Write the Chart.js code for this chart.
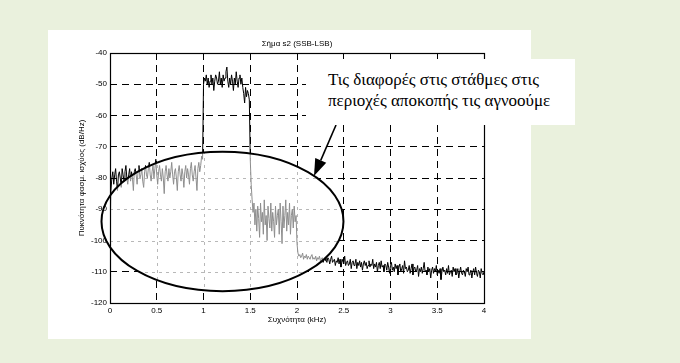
<!DOCTYPE html>
<html>
<head>
<meta charset="utf-8">
<script src="https://cdn.jsdelivr.net/npm/chart.js@4.4.1/dist/chart.umd.min.js"></script>
<style>
  html, body { margin: 0; padding: 0; background: #EAF1DD; }
  #wrap { position: relative; width: 680px; height: 363px; overflow: hidden; }
  #paper { position: absolute; left: 48px; top: 30px; width: 483px; height: 309px; background: #fff; }
  #c { position: absolute; left: 0; top: 0; }
  #note {
    position: absolute; left: 306px; top: 59px; width: 269px; height: 66px;
    background: #fff; box-sizing: border-box; padding: 10px 0 0 22px;
    font-family: "Liberation Serif", "Times New Roman", serif; font-size: 17px;
    line-height: 21px; color: #000; white-space: nowrap;
  }
</style>
</head>
<body>
<div id="wrap">
  <div id="paper"></div>
  <canvas id="c" width="680" height="363"></canvas>
  <div id="note">Τις διαφορές στις στάθμες στις<br>περιοχές αποκοπής τις αγνοούμε</div>
</div>
<script>
// ---- data ----
const chartTitle = 'Σήμα s2 (SSB-LSB)';
const xAxisTitle = 'Συχνότητα (kHz)';
const yAxisTitle = 'Πυκνότητα φασμ. ισχύος (dB/Hz)';
const freqStartKHz = 0;
const freqStepKHz = 0.01;
const xTickValues = [0, 0.5, 1, 1.5, 2, 2.5, 3, 3.5, 4];
const yTickValues = [-120, -110, -100, -90, -80, -70, -60, -50, -40];
// power spectral density, dB/Hz, one value every 0.01 kHz from 0 to 4 kHz
const psdDb = [
  -98, -84, -80, -78, -82, -79, -77, -81, -84, -79, -78, -80, -83, -77, -79, -81, -78, -76, -80, -82,
  -79, -77, -81, -78, -80, -84, -78, -77, -79, -82, -78, -76, -80, -79, -77, -81, -83, -78, -76, -79,
  -80, -77, -75, -79, -81, -78, -76, -80, -77, -74, -79, -82, -78, -76, -79, -81, -77, -80, -85, -78,
  -76, -79, -81, -77, -80, -78, -75, -79, -82, -78, -77, -80, -84, -78, -76, -79, -81, -77, -79, -83,
  -78, -76, -80, -77, -79, -82, -77, -75, -79, -81, -78, -76, -80, -84, -77, -75, -78, -76, -73, -74,
  -50, -48, -49, -47, -50, -48, -51, -49, -47, -50, -48, -52, -49, -47, -48, -50, -49, -46, -50, -48,
  -51, -47, -49, -48, -46, -44.5, -49, -51, -48, -50, -47, -49, -52, -48, -50, -46, -49, -51, -48, -47,
  -50, -48, -51, -53, -56, -51, -54, -52, -53, -55,
  -74, -82, -87, -91, -88, -95, -90, -97, -89, -93,
  -99, -88, -94, -91, -98, -87, -95, -92, -100, -89, -93, -96, -88, -97, -91, -94, -99, -89, -95, -92,
  -90, -98, -88, -94, -101, -89, -96, -92, -87, -97, -91, -95, -88, -98, -92, -90, -96, -89, -94, -92,
  -101, -104, -105, -104.5, -105.5, -105, -104, -106, -105, -105.5, -104.5, -106, -105, -105.5, -106, -105, -104.5, -106, -105.5, -106,
  -105, -106.5, -105.5, -106, -105, -106.5, -106, -105.5, -107, -106, -105.5, -106.5, -107, -105.5, -106, -107.5, -106, -105, -107, -106.5,
  -106, -108, -106.5, -107, -105.5, -107.5, -106, -108.5, -107, -106, -107.5, -105, -108, -107, -106.5, -108, -107.5, -106, -109, -107,
  -106.5, -108, -107.5, -106, -109, -107, -108, -106.5, -108.5, -107, -109.5, -107.5, -106.5, -108, -107, -109, -108, -106.5, -108.5, -107.5,
  -108, -106, -109, -107.5, -108.5, -107, -110, -108, -107, -109, -106.5, -108.5, -108, -110, -107.5, -108, -109.5, -107, -108.5, -110.5,
  -108, -107, -109.5, -108.5, -110, -107.5, -109, -108, -111, -108.5, -107.5, -110, -109, -108, -110.5, -106.5, -109, -108.5, -110, -109.5,
  -108, -110.5, -109, -107.5, -111, -109, -108.5, -110, -109.5, -108, -111.5, -109, -110, -108.5, -110.5, -109, -107, -110, -109.5, -111,
  -108.5, -110, -109, -112, -109.5, -108.5, -110.5, -109, -110, -108, -111, -109.5, -110.5, -109, -112.5, -110, -108.5, -110, -109.5, -111,
  -109, -110.5, -108, -111, -110, -109.5, -111.5, -108.5, -110, -109, -111, -110.5, -109, -112, -110, -108.5, -110.5, -111, -109.5, -110,
  -111.5, -109, -110, -108.5, -111, -110.5, -109.5, -112, -110, -109, -111, -108.5, -110.5, -111.5, -109.5, -110, -112, -109, -110.5, -111,
  -110
];
// highlighted (ignored) region, in data units: centre and semi-axes
const ignoredRegion = { cx: 1.203, cy: -93.9, rx: 1.294, ry: 22.3 };
// ---- end of data ----

const freqs = psdDb.map((_, i) => +(freqStartKHz + i * freqStepKHz).toFixed(2));
const points = psdDb.map((v, i) => ({ x: freqs[i], y: v }));

const FONT = { family: '"Liberation Sans", Arial, sans-serif', size: 8 };
const GRID_DASH = [7, 5];

const decor = {
  id: 'decor',
  afterDatasetsDraw(chart) {
    const { ctx, chartArea: ca, scales: { x, y } } = chart;
    const e = ignoredRegion;
    const cx = x.getPixelForValue(e.cx), cy = y.getPixelForValue(e.cy);
    const rx = Math.abs(x.getPixelForValue(e.cx + e.rx) - cx);
    const ry = Math.abs(y.getPixelForValue(e.cy + e.ry) - cy);
    ctx.save();
    ctx.beginPath(); ctx.rect(ca.left, ca.top, ca.width, ca.height); ctx.clip();
    ctx.beginPath(); ctx.ellipse(cx, cy, rx, ry, 0, 0, Math.PI * 2); ctx.clip();
    ctx.fillStyle = '#fff';
    ctx.fillRect(ca.left, ca.top, ca.width, ca.height);
    // faint grid inside the region
    ctx.strokeStyle = '#b8b8b8'; ctx.lineWidth = 1; ctx.setLineDash([3, 4]);
    x.ticks.forEach(t => {
      const px = Math.round(x.getPixelForValue(t.value)) + 0.5;
      ctx.beginPath(); ctx.moveTo(px, ca.top); ctx.lineTo(px, ca.bottom); ctx.stroke();
    });
    y.ticks.forEach(t => {
      const py = Math.round(y.getPixelForValue(t.value)) + 0.5;
      ctx.beginPath(); ctx.moveTo(ca.left, py); ctx.lineTo(ca.right, py); ctx.stroke();
    });
    // data in grey inside the region
    ctx.setLineDash([]); ctx.strokeStyle = '#8e8e8e'; ctx.lineWidth = 1;
    const meta = chart.getDatasetMeta(0);
    ctx.beginPath();
    meta.data.forEach((p, i) => { if (i === 0) ctx.moveTo(p.x, p.y); else ctx.lineTo(p.x, p.y); });
    ctx.stroke();
    ctx.restore();
  },
  afterDraw(chart) {
    const { ctx, chartArea: ca, scales: { x, y } } = chart;
    ctx.save();
    // axes frame
    ctx.strokeStyle = '#000'; ctx.lineWidth = 1.2; ctx.setLineDash([]);
    ctx.strokeRect(Math.round(ca.left) + 0.5, Math.round(ca.top) + 0.5,
                   Math.round(ca.width), Math.round(ca.height));
    // ellipse outline
    const e = ignoredRegion;
    const cx = x.getPixelForValue(e.cx), cy = y.getPixelForValue(e.cy);
    const rx = Math.abs(x.getPixelForValue(e.cx + e.rx) - cx);
    const ry = Math.abs(y.getPixelForValue(e.cy + e.ry) - cy);
    ctx.lineWidth = 2;
    ctx.beginPath(); ctx.ellipse(cx, cy, rx, ry, 0, 0, Math.PI * 2); ctx.stroke();
    // arrow from the note to the region
    const from = { x: 336, y: 125 }, tip = { x: 314, y: 176 };
    const dx = tip.x - from.x, dy = tip.y - from.y, len = Math.hypot(dx, dy);
    const ux = dx / len, uy = dy / len, nx = -uy, ny = ux;
    const hl = 17, hw = 6;
    const bx = tip.x - ux * hl, by = tip.y - uy * hl;
    ctx.lineWidth = 1.6;
    ctx.beginPath(); ctx.moveTo(from.x, from.y); ctx.lineTo(bx, by); ctx.stroke();
    ctx.fillStyle = '#000';
    ctx.beginPath();
    ctx.moveTo(tip.x, tip.y);
    ctx.lineTo(bx + nx * hw, by + ny * hw);
    ctx.lineTo(bx - nx * hw, by - ny * hw);
    ctx.closePath(); ctx.fill();
    ctx.restore();
  }
};

new Chart(document.getElementById('c'), {
  type: 'line',
  data: {
    datasets: [{
      data: points,
      borderColor: '#000',
      borderWidth: 1,
      pointRadius: 0,
      tension: 0,
      fill: false
    }]
  },
  options: {
    responsive: false,
    animation: false,
    events: [],
    parsing: false,
    layout: { padding: { left: 70, right: 156, top: 0, bottom: 38 } },
    plugins: {
      legend: { display: false },
      tooltip: { enabled: false },
      title: {
        display: true, text: chartTitle, color: '#000',
        font: { ...FONT, weight: 'normal' },
        padding: { top: 39.2, bottom: 4.2 }
      }
    },
    scales: {
      x: {
        type: 'linear', position: 'bottom', min: 0, max: 4,
        afterFit: s => { s.height = 22; },
        afterBuildTicks: s => { s.ticks = xTickValues.map(v => ({ value: v })); },
        ticks: { font: FONT, color: '#000', padding: 3, autoSkip: false, maxRotation: 0,
                 callback: v => String(v) },
        grid: { color: '#000', lineWidth: 1, drawTicks: false },
        border: { display: false, dash: GRID_DASH },
        title: { display: true, text: xAxisTitle, color: '#000', font: FONT,
                 padding: { top: 0, bottom: 0 } }
      },
      y: {
        type: 'linear', position: 'left', min: -120, max: -40,
        afterFit: s => { s.width = 40; },
        afterBuildTicks: s => { s.ticks = yTickValues.map(v => ({ value: v })); },
        ticks: { font: FONT, color: '#000', padding: 3, callback: v => String(v) },
        grid: { color: '#000', lineWidth: 1, drawTicks: false },
        border: { display: false, dash: GRID_DASH },
        title: { display: true, text: yAxisTitle, color: '#000', font: FONT,
                 padding: { top: 7, bottom: 0 } }
      },
      yRight: {
        type: 'linear', position: 'right', min: -120, max: -40,
        afterFit: s => { s.width = 40; },
        ticks: { display: false },
        grid: { display: false, drawOnChartArea: false, drawTicks: false },
        border: { display: false }
      }
    }
  },
  plugins: [decor]
});
</script>
</body>
</html>
